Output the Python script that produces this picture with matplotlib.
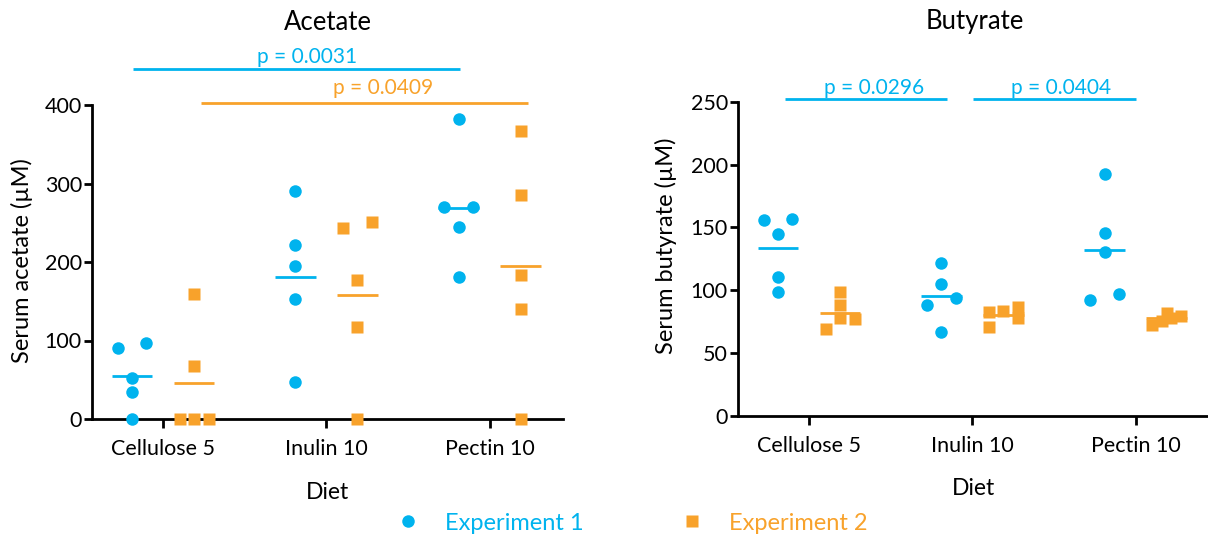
import numpy as np
import matplotlib
matplotlib.use('Agg')
import matplotlib.pyplot as plt
from matplotlib.lines import Line2D

plt.rcParams['font.family'] = ['Lato', 'DejaVu Sans']

BLUE = '#00B3EE'
ORANGE = '#F8A22B'

diets = ['Cellulose 5', 'Inulin 10', 'Pectin 10']

# values, one list per diet
acetate_exp1 = [[90, 96.5, 51.6, 35, 0],
                [290, 222, 194.7, 153.2, 47.4],
                [381.8, 270, 270, 244.2, 180.7]]
acetate_exp2 = [[159.6, 67.7, 0, 0, 0],
                [243.3, 251, 176.5, 117.7, 0],
                [367.4, 285.7, 182.9, 140.5, 0]]
butyrate_exp1 = [[156, 156.5, 144.8, 110.8, 98.6],
                 [121.5, 105, 88.3, 93.6, 66.3],
                 [192.3, 145.8, 130.7, 92.3, 96.8]]
butyrate_exp2 = [[68.7, 77, 78, 88, 98.6],
                 [70.4, 78, 82.3, 83.3, 86.7],
                 [72.5, 75.5, 78, 79.5, 82]]

# (label, experiment, bracket from, bracket to, text x)
acetate_p = [('p = 0.0031', 1, -0.184, 1.822, 0.883),
             ('p = 0.0409', 2, 0.231, 2.233, 1.347)]
butyrate_p = [('p = 0.0296', 1, -0.146, 0.848, 0.396),
              ('p = 0.0404', 1, 1.006, 2.0, 1.546)]

W, H = 1208, 540
fig = plt.figure(figsize=(W / 100, H / 100), dpi=100)
ax1 = fig.add_axes([92 / W, 1 - 419 / H, 471 / W, 314 / H])
ax2 = fig.add_axes([738 / W, 1 - 415.5 / H, 471 / W, 313.5 / H])

SHIFT = 0.19


def swarm_offsets(vals, px_per_unit, size_px=11.5, step=0.0887):
    # put points that would overlap on one row, spread them left/right
    vals = np.asarray(vals, float)
    order = np.argsort(vals, kind='stable')
    rows = []
    for idx in order:
        if rows and (vals[idx] - vals[rows[-1][0]]) * px_per_unit < size_px:
            rows[-1].append(idx)
        else:
            rows.append([idx])
    off = np.zeros(len(vals))
    for row in rows:
        n = len(row)
        if n > 1:
            w = step * max(1, (n - 1) // 2)
            off[row] = np.linspace(-w, w, n)
    return off


def draw_panel(ax, exp1, exp2, ymax, ystep, ylabel, pvals, p_line_y, p_text_y, hpx):
    ppu = hpx / ymax
    for i in range(len(diets)):
        for vals, sh, color, marker in [(exp1[i], -SHIFT, BLUE, 'o'), (exp2[i], SHIFT, ORANGE, 's')]:
            vals = np.array(vals)
            x = i + sh + swarm_offsets(vals, ppu)
            ax.plot(x, vals, linestyle='none', marker=marker, ms=9 if marker == 'o' else 9.3,
                    mec='none', color=color, clip_on=False, zorder=3)
            m = vals.mean()
            ax.plot([i + sh - 0.125, i + sh + 0.125], [m, m], color=color, lw=2,
                    solid_capstyle='butt', zorder=2)

    ax.set_xlim(-0.435, 2.45)
    ax.set_ylim(0, ymax)
    ax.set_yticks(np.arange(0, ymax + 1, ystep))
    ax.set_xticks(range(len(diets)))
    ax.set_xticklabels(diets)
    for s in ['top', 'right']:
        ax.spines[s].set_visible(False)
    for s in ['left', 'bottom']:
        ax.spines[s].set_linewidth(2)
    ax.tick_params(axis='x', length=6.5, width=2, labelsize=15.5, pad=8)
    ax.tick_params(axis='y', length=5.8, width=2, labelsize=15.5, pad=1.5)
    ax.set_ylabel(ylabel, fontsize=17)
    ax.set_xlabel('Diet', fontsize=16.5)
    ax.xaxis.set_label_coords(0.5, -0.2)
    ax.xaxis.label.set_va('top')

    for k, (txt, grp, x1, x2, xt) in enumerate(pvals):
        color = BLUE if grp == 1 else ORANGE
        ax.plot([x1, x2], [p_line_y[k], p_line_y[k]], color=color, lw=2, clip_on=False,
                solid_capstyle='butt')
        ax.text(xt, p_text_y[k], txt, color=color, fontsize=15,
                ha='center', va='center')
    return ax


draw_panel(ax1, acetate_exp1, acetate_exp2, 400, 100, 'Serum acetate (µM)',
           acetate_p, [446, 402.5], [461, 421.7], 314)
draw_panel(ax2, butyrate_exp1, butyrate_exp2, 250, 50, 'Serum butyrate (µM)',
           butyrate_p, [252, 252], [261.3, 261.3], 313.5)

ax1.yaxis.set_label_coords(-0.125, 0.503)
ax2.yaxis.set_label_coords(-0.13, 0.543)

fig.text(328 / W, 1 - 22 / H, 'Acetate', ha='center', va='center', fontsize=18.5)
fig.text(975 / W, 1 - 22 / H, 'Butyrate', ha='center', va='center', fontsize=18.5)

handles = [Line2D([], [], linestyle='none', marker='o', ms=9, mec='none', color=BLUE),
           Line2D([], [], linestyle='none', marker='s', ms=8, mec='none', color=ORANGE)]
fig.legend(handles, ['Experiment 1', 'Experiment 2'], loc='center left',
           bbox_to_anchor=(396 / W, 1 - 523 / H), ncol=2, frameon=False,
           fontsize=17, labelcolor=[BLUE, ORANGE], handlelength=1, handletextpad=1.07,
           columnspacing=4.1, borderpad=0, borderaxespad=0)

fig.savefig('out.png', dpi=100)
